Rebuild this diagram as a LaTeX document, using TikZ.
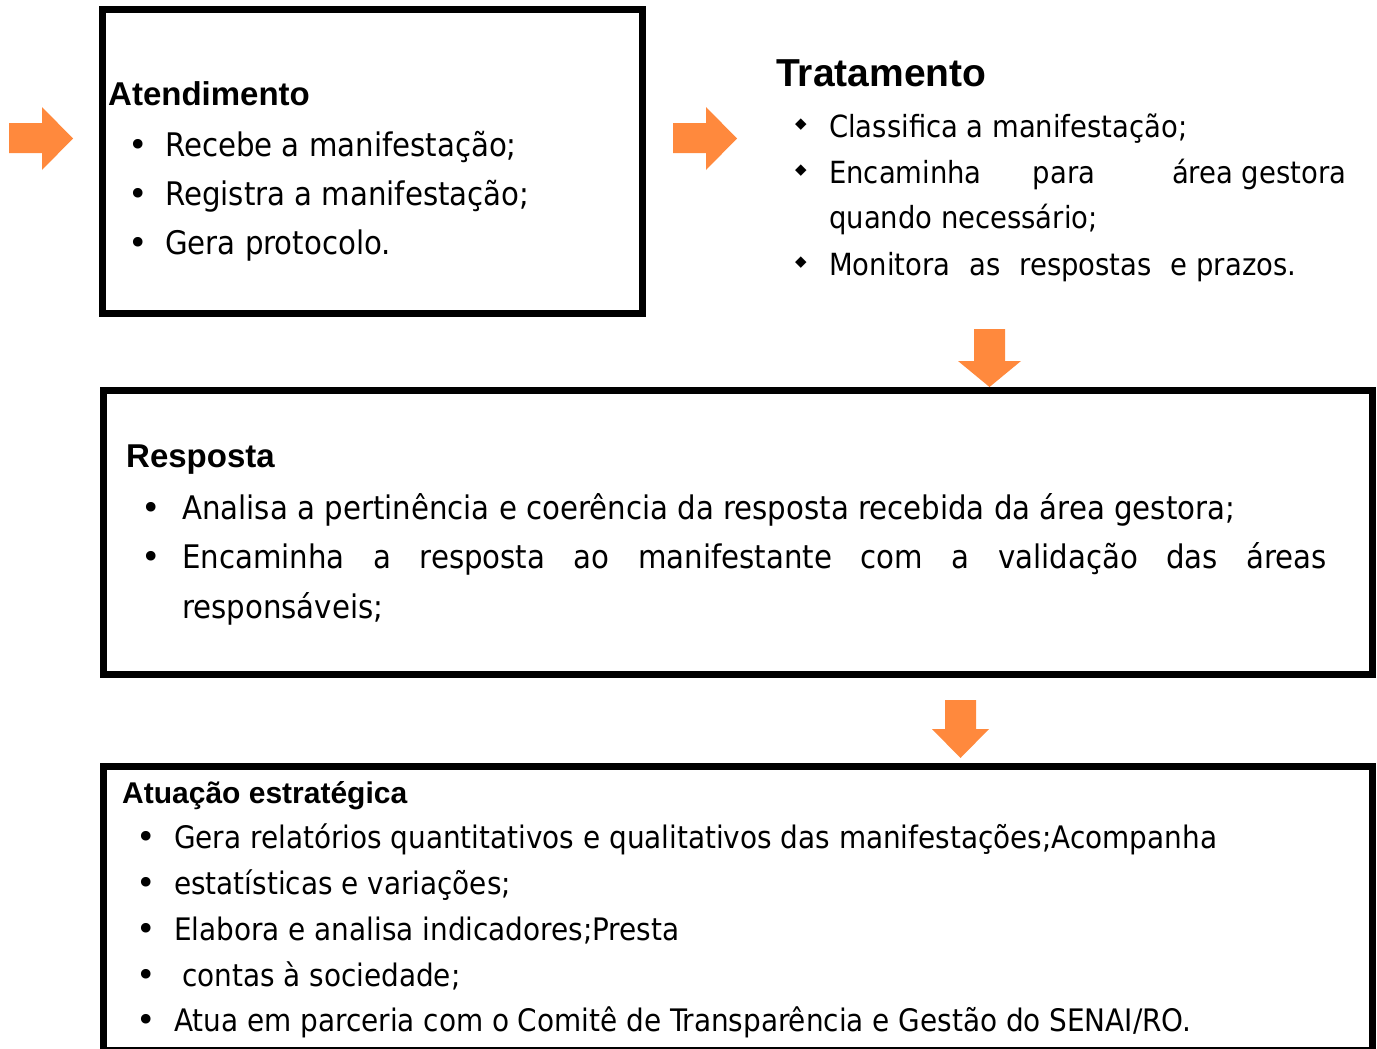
\documentclass[tikz,border=0pt]{standalone}
\usepackage{fontspec}
\setmainfont{DejaVuSansCondensed}[Extension=.ttf]
\newfontfamily\titfont{Liberation Sans}
\newfontfamily\simbfont{DejaVu Sans}
\definecolor{laranja}{RGB}{255,137,61}

\tikzset{
    caixa/.style={draw=black, line width=7pt, inner sep=0pt},
    titulo/.style={anchor=base west, inner sep=0pt},
    item/.style={anchor=base west, inner sep=0pt},
    marca/.style={anchor=base, inner sep=0pt, font=\simbfont\fontsize{33}{33}\selectfont},
    losango/.style={anchor=center, inner sep=0pt, font=\simbfont\fontsize{15}{15}\selectfont},
    seta/.style={fill=laranja}
}

\begin{document}
\begin{tikzpicture}[x=1pt, y=-1pt]
    \useasboundingbox (0,0) rectangle (1377,1049);
    \clip (0,0) rectangle (1377,1049);

    % setas
    \fill[seta] (9,123) -- (42,123) -- (42,107) -- (73,138.5) -- (42,170) -- (42,153) -- (9,153) -- cycle;
    \fill[seta] (673,123) -- (706,123) -- (706,107) -- (737,138.5) -- (706,170) -- (706,153) -- (673,153) -- cycle;
    \fill[seta] (974,329) -- (1005,329) -- (1005,361) -- (1021,361) -- (989.5,387) -- (958,361) -- (974,361) -- cycle;
    \fill[seta] (945,700) -- (976,700) -- (976,729) -- (989,729) -- (960.5,758) -- (932,729) -- (945,729) -- cycle;

    % caixas
    \node[caixa, minimum width=540pt, minimum height=304pt] (atend) at (372.5,161.5) {};
    \node[caixa, minimum width=1269pt, minimum height=284pt] (resp) at (738,532.5) {};
    \node[caixa, minimum width=1269pt, minimum height=284pt] (atua) at (738,908.5) {};

    % Atendimento
    \node[titulo, font=\titfont\bfseries\fontsize{33}{33}\selectfont] (atendT) at (108,106) {Atendimento};
    \begin{scope}[font=\fontsize{32.5}{32.5}\selectfont]
        \node[marca] (a1) at (138,156) {•};
        \node[marca] (a2) at (138,205) {•};
        \node[marca] (a3) at (138,254) {•};
        \node[item] (atend1) at (165,156) {Recebe a manifestação;};
        \node[item] (atend2) at (165,205) {Registra a manifestação;};
        \node[item] (atend3) at (165,254) {Gera protocolo.};
    \end{scope}

    % Tratamento
    \node[titulo, font=\titfont\bfseries\fontsize{39}{39}\selectfont] (tratT) at (776,87) {Tratamento};
    \begin{scope}[font=\fontsize{30.5}{30.5}\selectfont]
        \node[losango] (t1) at (801,125) {◆};
        \node[losango] (t2) at (801,171) {◆};
        \node[losango] (t3) at (801,263) {◆};
        \node[item] (trat1) at (829,137) {Classifica a manifestação;};
        \node[item] (trat2) at (829,183) {\makebox[517pt][l]{Encaminha\hspace{\stretch{2}}para\hspace{\stretch{3}}área gestora}};
        \node[item] (trat2b) at (829,228) {quando necessário;};
        \node[item] (trat3) at (829,275) {\makebox[467pt][l]{Monitora\hfill as\hfill respostas\hfill e prazos.}};
    \end{scope}

    % Resposta
    \node[titulo, font=\titfont\bfseries\fontsize{33}{33}\selectfont] (respT) at (126,467) {Resposta};
    \begin{scope}[font=\fontsize{32.5}{32.5}\selectfont]
        \node[marca] (r1) at (151,519) {•};
        \node[marca] (r2) at (151,568) {•};
        \node[item] (resp1) at (182,519) {Analisa a pertinência e coerência da resposta recebida da área gestora;};
        \node[item] (resp2) at (182,568) {\makebox[1145pt][s]{Encaminha a resposta ao manifestante com a validação das áreas}};
        \node[item] (resp2b) at (182,618) {responsáveis;};
    \end{scope}

    % Atuação estratégica
    \node[titulo, font=\titfont\bfseries\fontsize{30}{30}\selectfont] (atuaT) at (122,803) {Atuação estratégica};
    \begin{scope}[font=\fontsize{31}{31}\selectfont]
        \node[marca] (e1) at (146,848) {•};
        \node[marca] (e2) at (146,894) {•};
        \node[marca] (e3) at (146,940) {•};
        \node[marca] (e4) at (146,986) {•};
        \node[marca] (e5) at (146,1031) {•};
        \node[item] (atua1) at (174,848) {Gera relatórios quantitativos e qualitativos das manifestações;Acompanha};
        \node[item] (atua2) at (174,894) {estatísticas e variações;};
        \node[item] (atua3) at (174,940) {Elabora e analisa indicadores;Presta};
        \node[item] (atua4) at (182,986) {contas à sociedade;};
        \node[item] (atua5) at (174,1031) {Atua em parceria com o Comitê de Transparência e Gestão do SENAI/RO.};
    \end{scope}
\end{tikzpicture}
\end{document}
